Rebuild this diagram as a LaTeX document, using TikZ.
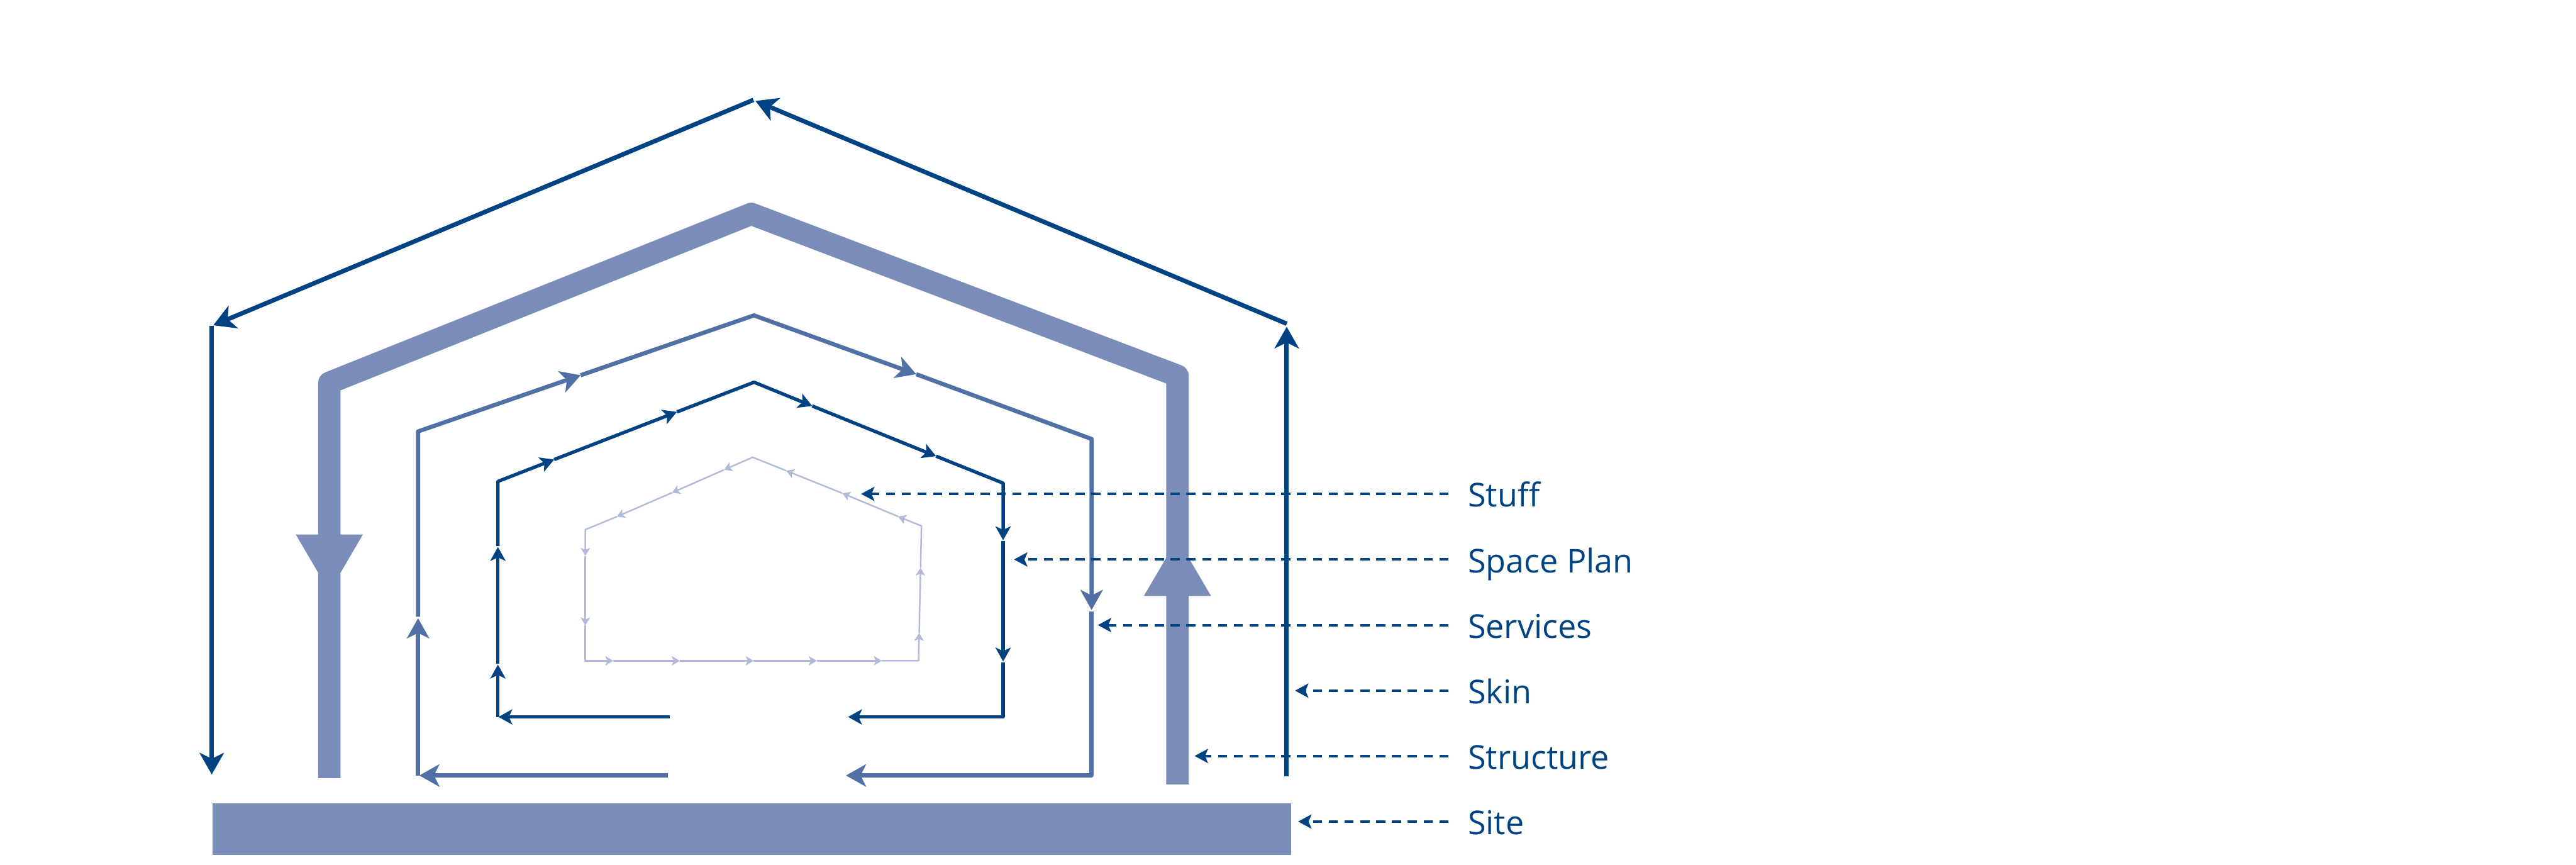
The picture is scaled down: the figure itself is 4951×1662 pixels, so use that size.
\documentclass[tikz,border=0pt]{standalone}
\usepackage{fontspec}
\setmainfont{Open Sans}
\usetikzlibrary{arrows.meta}
\definecolor{navy}{RGB}{0,67,130}
\definecolor{structc}{RGB}{122,140,184}
\definecolor{servc}{RGB}{80,112,166}
\definecolor{stuffc}{RGB}{177,187,217}
\tikzset{
  skinline/.style={draw=navy, line width=8.5bp, line join=round, -{Stealth[length=42bp,width=48bp,inset=12bp,line width=0pt]}},
  servline/.style={draw=servc, line width=8bp, line join=round, -{Stealth[length=39bp,width=44bp,inset=11bp,line width=0pt]}},
  spaceline/.style={draw=navy, line width=6.5bp, line join=round, -{Stealth[length=27bp,width=30bp,inset=7bp,line width=0pt]}},
  stuffline/.style={draw=stuffc, line width=3bp, line join=round, -{Stealth[length=15.5bp,width=18.5bp,inset=4bp,line width=0pt]}},
  leader/.style={draw=navy, line width=5bp, dash pattern=on 17.5bp off 12.9bp, -{Stealth[length=26bp,width=28bp,inset=6bp,line width=0pt]}},
  lbl/.style={anchor=base west, inner sep=0pt, text=navy, font=\fontsize{63bp}{75bp}\selectfont},
  structline/.style={draw=structc, line width=43bp, line join=round},
}
\begin{document}
\begin{tikzpicture}[x=1bp,y=-1bp]
\useasboundingbox (0,0) rectangle (4951,1662);
% Site
\fill[structc] (408,1543) rectangle (2482,1643);
% Structure
\coordinate (stL) at (633,1495);
\coordinate (stLC) at (633,735.5);
\coordinate (stP) at (1444,411);
\coordinate (stRC) at (2263,722);
\coordinate (stR) at (2263,1507);
\draw[structline] (stL) -- (stLC) -- (stP) -- (stRC) -- (stR);
\fill[structc] (568.5,1027) -- (697.5,1027) -- (633,1137) -- cycle;
\fill[structc] (2198.5,1145) -- (2327.5,1145) -- (2263,1035) -- cycle;
% Skin
\coordinate (skRB) at (2473,1491);
\coordinate (skRC) at (2473,622);
\coordinate (skRT) at (2473,628);
\coordinate (skP) at (1448,192);
\coordinate (skPT) at (1452,194);
\coordinate (skLT) at (410,625);
\coordinate (skLC) at (407,626);
\coordinate (skLB) at (407,1488);
\draw[skinline] (skRB) -- (skRT);
\draw[skinline] (skRC) -- (skPT);
\draw[skinline] (skP) -- (skLT);
\draw[skinline] (skLC) -- (skLB);
% Services
\coordinate (svA) at (1284,1490);
\coordinate (svBL) at (803.5,1490);
\coordinate (svLC) at (803.5,829);
\coordinate (svP) at (1449,606);
\coordinate (svRC) at (2098,843.5);
\coordinate (svBR) at (2098,1490);
\coordinate (svEnd) at (1626,1490);
\draw[servline] (svA) -- (806,1490);
\draw[servline] (svBL) -- (803.5,1188);
\draw[servline] (803.5,1185) -- (svLC) -- (1116,721);
\draw[servline] (1116,721) -- (svP) -- (1761,719);
\draw[servline] (1761,719) -- (svRC) -- (2098,1172);
\draw[servline] (2098,1175) -- (svBR) -- (svEnd);
% Space plan
\coordinate (spA) at (1287.6,1377.5);
\coordinate (spBL) at (957,1377.5);
\coordinate (spLC) at (957,925);
\coordinate (spP) at (1449.3,734.4);
\coordinate (spRC) at (1928,928.3);
\coordinate (spBR) at (1928,1377.5);
\coordinate (spEnd) at (1630,1377.5);
\draw[spaceline] (spA) -- (958,1377.5);
\draw[spaceline] (spBL) -- (957,1277);
\draw[spaceline] (957,1275) -- (957,1051);
\draw[spaceline] (957,1049) -- (spLC) -- (1065,883);
\draw[spaceline] (1065,883) -- (1301,791.5);
\draw[spaceline] (1301,791.5) -- (spP) -- (1561,780);
\draw[spaceline] (1561,780) -- (1799,876.5);
\draw[spaceline] (1799,876.5) -- (spRC) -- (1928,1038);
\draw[spaceline] (1928,1040) -- (1928,1271);
\draw[spaceline] (1928,1273) -- (spBR) -- (spEnd);
% Stuff
\coordinate (sfP) at (1446.6,878.6);
\coordinate (sfLC) at (1125,1017.6);
\coordinate (sfBL) at (1125,1269.7);
\coordinate (sfBR) at (1765.4,1269.7);
\coordinate (sfRC) at (1771,1010.6);
\coordinate (T1) at (1178.7,1269.7);
\coordinate (T2) at (1306.4,1269.7);
\coordinate (T3) at (1448.4,1269.7);
\coordinate (T4) at (1569.8,1269.7);
\coordinate (T5) at (1694.8,1269.7);
\coordinate (T6) at (1766.6,1216);
\coordinate (T7) at (1769.3,1090.7);
\coordinate (T8) at (1726,992.3);
\coordinate (T9) at (1618.8,947.7);
\coordinate (T10) at (1510.9,904.3);
\coordinate (T11) at (1391.5,902.7);
\coordinate (T12) at (1291.6,946.7);
\coordinate (T13) at (1185.4,992.7);
\coordinate (T14) at (1125,1068);
\coordinate (T15) at (1125,1201.7);
\draw[stuffline] (T15) -- (sfBL) -- (T1);
\draw[stuffline] (T1) -- (T2);
\draw[stuffline] (T2) -- (T3);
\draw[stuffline] (T3) -- (T4);
\draw[stuffline] (T4) -- (T5);
\draw[stuffline] (T5) -- (sfBR) -- (T6);
\draw[stuffline] (T6) -- (T7);
\draw[stuffline] (T7) -- (sfRC) -- (T8);
\draw[stuffline] (T8) -- (T9);
\draw[stuffline] (T9) -- (T10);
\draw[stuffline] (T10) -- (sfP) -- (T11);
\draw[stuffline] (T11) -- (T12);
\draw[stuffline] (T12) -- (T13);
\draw[stuffline] (T13) -- (sfLC) -- (T14);
\draw[stuffline] (T14) -- (T15);
% Labels and leaders
\node[lbl] (lStuff) at (2821,974) {Stuff};
\node[lbl] (lSpace) at (2821,1100) {Space Plan};
\node[lbl] (lServ) at (2821,1226) {Services};
\node[lbl] (lSkin) at (2821,1352) {Skin};
\node[lbl] (lStruct) at (2821,1477.5) {Structure};
\node[lbl] (lSite) at (2821,1603.5) {Site};
\coordinate (eStuff) at (2784,949);
\coordinate (eSpace) at (2784,1075);
\coordinate (eServ) at (2784,1201);
\coordinate (eSkin) at (2784,1327);
\coordinate (eStruct) at (2784,1452.5);
\coordinate (eSite) at (2784,1578.5);
\coordinate (aStuff) at (1655,949);
\coordinate (aSpace) at (1949,1075);
\coordinate (aServ) at (2110,1201);
\coordinate (aSkin) at (2489,1327);
\coordinate (aStruct) at (2296,1452.5);
\coordinate (aSite) at (2495,1578.5);
\draw[leader] (eStuff) -- (aStuff);
\draw[leader] (eSpace) -- (aSpace);
\draw[leader] (eServ) -- (aServ);
\draw[leader] (eSkin) -- (aSkin);
\draw[leader] (eStruct) -- (aStruct);
\draw[leader] (eSite) -- (aSite);
\end{tikzpicture}
\end{document}
